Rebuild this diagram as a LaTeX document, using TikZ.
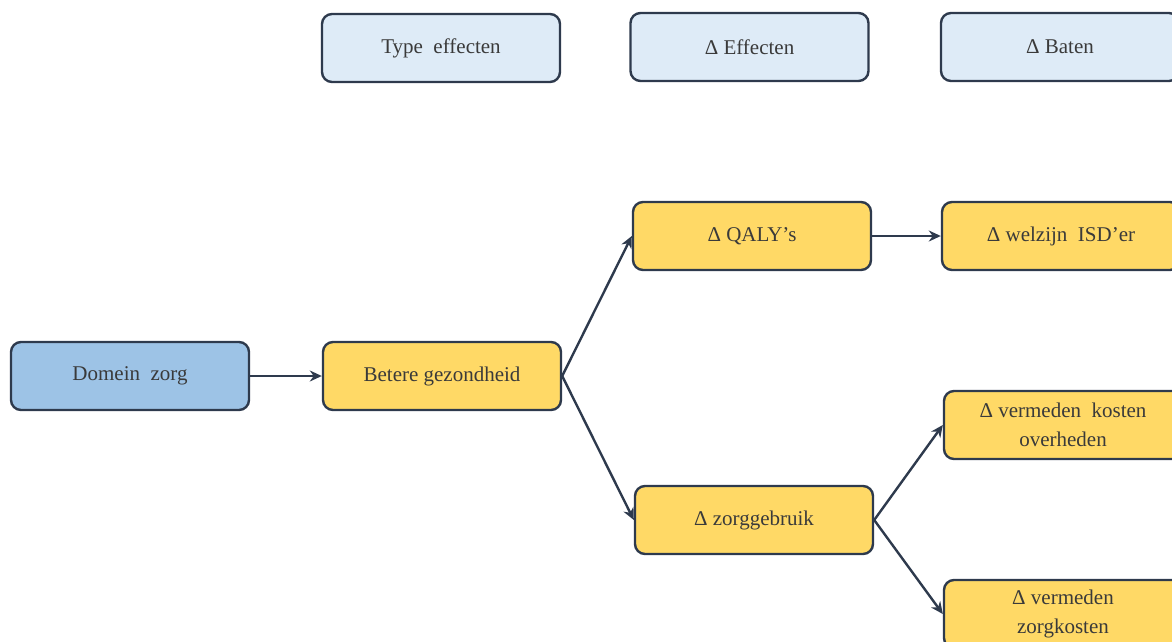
\documentclass[tikz,border=0pt]{standalone}
\usepackage{fontspec}
\setmainfont{Liberation Serif}
\usetikzlibrary{arrows.meta}
\definecolor{edge}{HTML}{2E3A4D}
\definecolor{hdr}{HTML}{DEEBF7}
\definecolor{blu}{HTML}{9DC3E6}
\definecolor{yel}{HTML}{FFD966}
\definecolor{txt}{HTML}{3A3A3A}
\tikzset{
  box/.style={draw=edge, line width=2.4pt, rounded corners=10pt, minimum width=238pt, minimum height=68pt, inner sep=2pt, align=center, text=txt, font=\fontsize{21}{29}\selectfont},
  hbox/.style={box, fill=hdr},
  bbox/.style={box, fill=blu},
  ybox/.style={box, fill=yel},
  conn/.style={draw=edge, line width=2.4pt, -{Stealth[length=12pt,width=11pt]}}
}
\begin{document}
\begin{tikzpicture}[x=1pt,y=-1pt]
\useasboundingbox (0,0) rectangle (1172,642);
\clip (0,0) rectangle (1172,642);
\node[hbox] (h1) at (441,48) {Type\ \ effecten};
\node[hbox] (h2) at (749.5,47) {Δ Effecten};
\node[hbox] (h3) at (1060,47) {Δ Baten};
\node[bbox] (dz) at (130,376) {Domein\ \ zorg};
\node[ybox] (bg) at (442,376) {Betere gezondheid};
\node[ybox] (qa) at (752,236) {Δ QALY’s};
\node[ybox] (zg) at (754,520) {Δ zorggebruik};
\node[ybox] (wz) at (1061,236) {Δ welzijn\ \ ISD’er};
\node[ybox] (vk) at (1063,425) {Δ vermeden\ \ kosten\\overheden};
\node[ybox] (vz) at (1063,614) {Δ vermeden\\zorgkosten};
\draw[conn] (dz.east) -- (bg.west);
\draw[conn] (bg.east) -- (qa.west);
\draw[conn] (bg.east) -- (zg.west);
\draw[conn] (qa.east) -- (wz.west);
\draw[conn] (zg.east) -- (vk.west);
\draw[conn] (zg.east) -- (vz.west);
\end{tikzpicture}
\end{document}
